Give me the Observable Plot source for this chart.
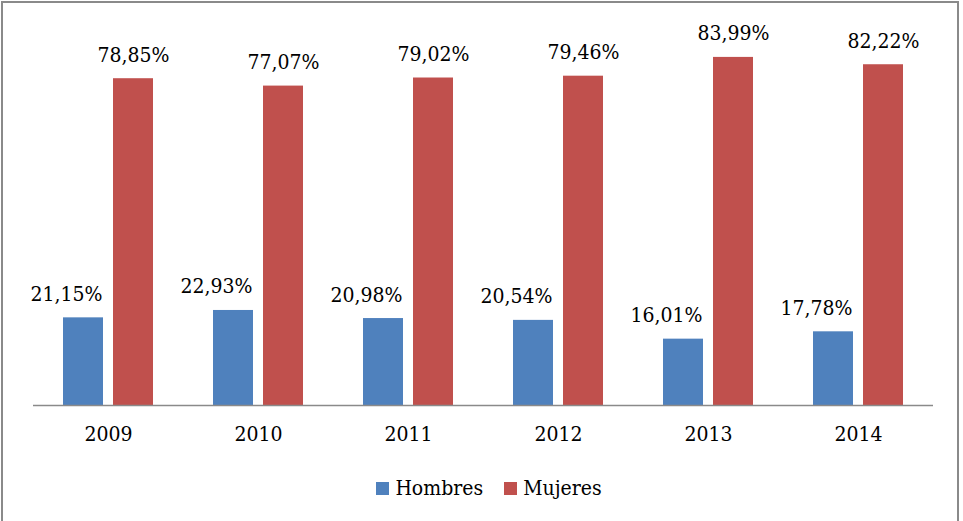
<!DOCTYPE html>
<html>
<head>
<meta charset="utf-8">
<script src="https://cdn.jsdelivr.net/npm/d3@7"></script>
<script src="https://cdn.jsdelivr.net/npm/@observablehq/plot@0.6"></script>
<style>
  html, body { margin: 0; padding: 0; background: #fff; overflow: hidden; }
  #frame {
    position: absolute; left: 1px; top: 1px;
    width: 954px; height: 530px;
    border: 2px solid #8a8a8a; background: #fff;
    font-family: "DejaVu Serif Condensed", "DejaVu Serif", serif;
    font-stretch: condensed;
  }
  #chart { position: absolute; left: 0; top: 0; }
  #legend {
    position: absolute; left: 0; top: 470px; width: 100%; height: 30px;
    box-sizing: border-box; padding-left: 18px;
    display: flex; justify-content: center; align-items: center;
    font-size: 21px; color: #000;
  }
  .item { display: flex; align-items: center; }
  .item + .item { margin-left: 21px; }
  .sw { width: 13px; height: 13px; margin-right: 6px; }
  svg text { font-stretch: condensed; }
</style>
</head>
<body>
<div id="frame">
  <div id="chart"></div>
  <div id="legend"></div>
</div>
<script>
const years = ["2009", "2010", "2011", "2012", "2013", "2014"];
const series = ["Hombres", "Mujeres"];
const hombres = [21.15, 22.93, 20.98, 20.54, 16.01, 17.78];
const mujeres = [78.85, 77.07, 79.02, 79.46, 83.99, 82.22];
const colors = ["#4F81BD", "#C0504D"];

const rows = [];
years.forEach((yr, i) => {
  rows.push({year: yr, sex: "Hombres", value: hombres[i]});
  rows.push({year: yr, sex: "Mujeres", value: mujeres[i]});
});
const fmt = v => v.toFixed(2).replace(".", ",") + "%";
const font = "'DejaVu Serif Condensed', 'DejaVu Serif', serif";

const plot = Plot.plot({
  width: 954,
  height: 460,
  marginLeft: 29,
  marginRight: 24,
  marginTop: 29,
  marginBottom: 58,
  style: {background: "#fff", fontFamily: font},
  fx: {domain: years, padding: 0, axis: null},
  x: {domain: series, paddingInner: 0.2, paddingOuter: 0.6, axis: null},
  y: {domain: [0, 90], axis: null},
  color: {domain: series, range: colors},
  marks: [
    Plot.barY(rows, {fx: "year", x: "sex", y: "value", fill: "sex"}),
    Plot.text(rows.filter(d => d.sex === "Hombres"), {
      fx: "year", x: "sex", y: "value", text: d => fmt(d.value),
      lineAnchor: "bottom", dy: -17, dx: -17, fontSize: 21, fontFamily: font, fill: "#000"
    }),
    Plot.text(rows.filter(d => d.sex === "Mujeres"), {
      fx: "year", x: "sex", y: "value", text: d => fmt(d.value),
      lineAnchor: "bottom", dy: -17, fontSize: 21, fontFamily: font, fill: "#000"
    }),
    Plot.ruleY([0], {stroke: "#8a8a8a", strokeWidth: 1.5}),
    Plot.axisFx({anchor: "bottom", tickSize: 0, tickPadding: 21, fontSize: 21, fontFamily: font, fill: "#000", label: null})
  ]
});
document.getElementById("chart").appendChild(plot);

const legend = document.getElementById("legend");
series.forEach((s, i) => {
  const item = document.createElement("div");
  item.className = "item";
  const sw = document.createElement("span");
  sw.className = "sw";
  sw.style.background = colors[i];
  const t = document.createElement("span");
  t.textContent = s;
  item.appendChild(sw);
  item.appendChild(t);
  legend.appendChild(item);
});
</script>
</body>
</html>
